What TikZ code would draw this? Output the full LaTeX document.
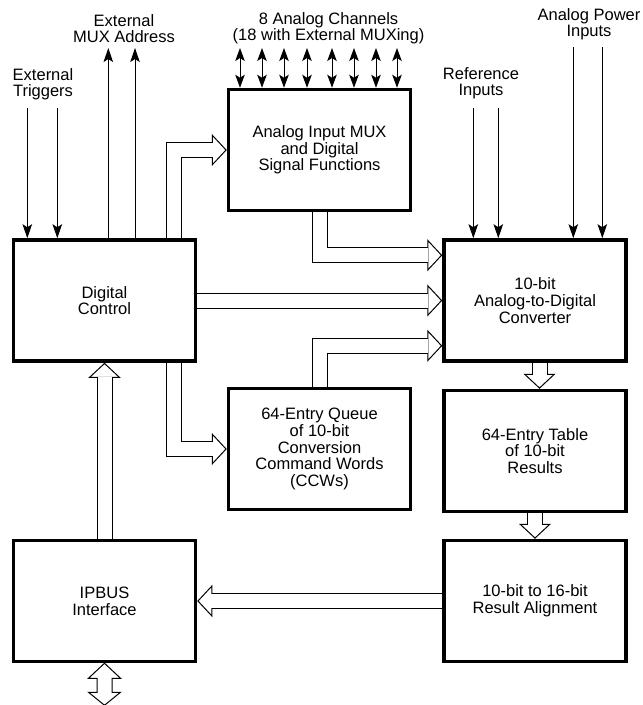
\documentclass[tikz,border=0pt]{standalone}
\usepackage{fontspec}
\setmainfont{Liberation Sans}
\usetikzlibrary{arrows.meta,calc}
\begin{document}
\begin{tikzpicture}[x=1pt,y=-1pt,
  every node/.style={font=\fontsize{16.5}{16.7}\selectfont, align=center, inner sep=0pt},
  blk/.style={draw, line width=3.5pt, minimum width=182pt, minimum height=121pt},
  lbl/.style={anchor=north},
  thinarr/.style={line width=1pt, -{Stealth[length=14pt,width=9.5pt,inset=3pt]}},
  dblarr/.style={line width=1pt, {Stealth[length=13pt,width=9.5pt,inset=3pt]}-{Stealth[length=13pt,width=9.5pt,inset=3pt]}},
  hollow/.style={line width=16pt, line cap=butt, line join=miter,
     -{Triangle[length=15pt,width=32pt,line width=1pt,fill=white]},
     postaction={draw=white, line width=14pt, arrows=-, shorten >=14pt}},
  hollowpoly/.style={line width=1pt, line join=miter, fill=white},
]
\useasboundingbox (0,0) rectangle (643,705);

% blocks
\node[blk] (dc)    at (104.5,300.5) {Digital\\Control};
\node[blk] (mux)   at (319.5,150)   {Analog Input MUX\\and Digital\\Signal Functions};
\node[blk] (adc)   at (535,300.5)   {10-bit\\Analog-to-Digital\\Converter};
\node[blk] (queue) at (319.5,449)   {64-Entry Queue\\of 10-bit\\Conversion\\Command Words\\(CCWs)};
\node[blk] (table) at (535,451)     {64-Entry Table\\of 10-bit\\Results};
\node[blk] (align) at (535,601)     {10-bit to 16-bit\\Result Alignment};
\node[blk] (ipbus) at (104.5,601)   {IPBUS\\Interface};

% labels
\node[lbl] (ltrig) at (43,68)    {External\\Triggers};
\node[lbl] (lmux)  at (124,14)   {External\\MUX Address};
\node[lbl] (lch)   at (328.5,12) {8 Analog Channels\\(18 with External MUXing)};
\node[lbl] (lref)  at (481,67)   {Reference\\Inputs};
\node[lbl] (lpow)  at (589,8)    {Analog Power\\Inputs};

% free ends of thin connectors
\coordinate (t1) at (27.3,108);
\coordinate (t2) at (57.3,108);
\coordinate (m1) at (108.3,48);
\coordinate (m2) at (135,48);
\coordinate (r1) at (473.3,108);
\coordinate (r2) at (498.3,108);
\coordinate (p1) at (573.3,47);
\coordinate (p2) at (602.3,47);

\draw[thinarr] (t1) -- (t1 |- dc.north);
\draw[thinarr] (t2) -- (t2 |- dc.north);
\draw[thinarr] (m1 |- dc.north) -- (m1);
\draw[thinarr] (m2 |- dc.north) -- (m2);
\draw[thinarr] (r1) -- (r1 |- adc.north);
\draw[thinarr] (r2) -- (r2 |- adc.north);
\draw[thinarr] (p1) -- (p1 |- adc.north);
\draw[thinarr] (p2) -- (p2 |- adc.north);

\foreach \x [count=\i] in {240,262,284,307,332,354,376,397} {
  \coordinate (ch\i) at (\x,48);
  \draw[dblarr] (ch\i) -- (ch\i |- mux.north);
}

% hollow bus arrows
\coordinate (dcn) at ([xshift=69.5pt]dc.north);
\coordinate (dcs) at ([xshift=69.5pt]dc.south);
\coordinate (adcin1) at ([yshift=-17pt]adc.north west);
\coordinate (adcin3) at ([yshift=17pt]adc.south west);
\draw[hollow] (dcn) |- (mux.west);
\draw[hollow] (dcs) |- (queue.west);
\draw[hollow] (mux.south) |- (adcin1);
\draw[hollow] (dc.east) -- (adc.west);
\draw[hollow] (queue.north) |- (adcin3);
\draw[hollow] ([xshift=4.5pt]adc.south) -- ([xshift=4.5pt]table.north);
\draw[hollow] (table.south) -- (align.north);
\draw[hollow] (align.west) -- (ipbus.east);
\draw[hollow] (ipbus.north) -- (dc.south);

% bidirectional bus at the bottom of IPBUS
\draw[hollowpoly] (ipbus.south) -- ++(16,15) -- ++(-8.5,0) -- ++(0,14) -- ++(8.5,0)
  -- ++(-16,13) -- ++(-16,-13) -- ++(8.5,0) -- ++(0,-14) -- ++(-8.5,0) -- cycle;
\end{tikzpicture}
\end{document}
